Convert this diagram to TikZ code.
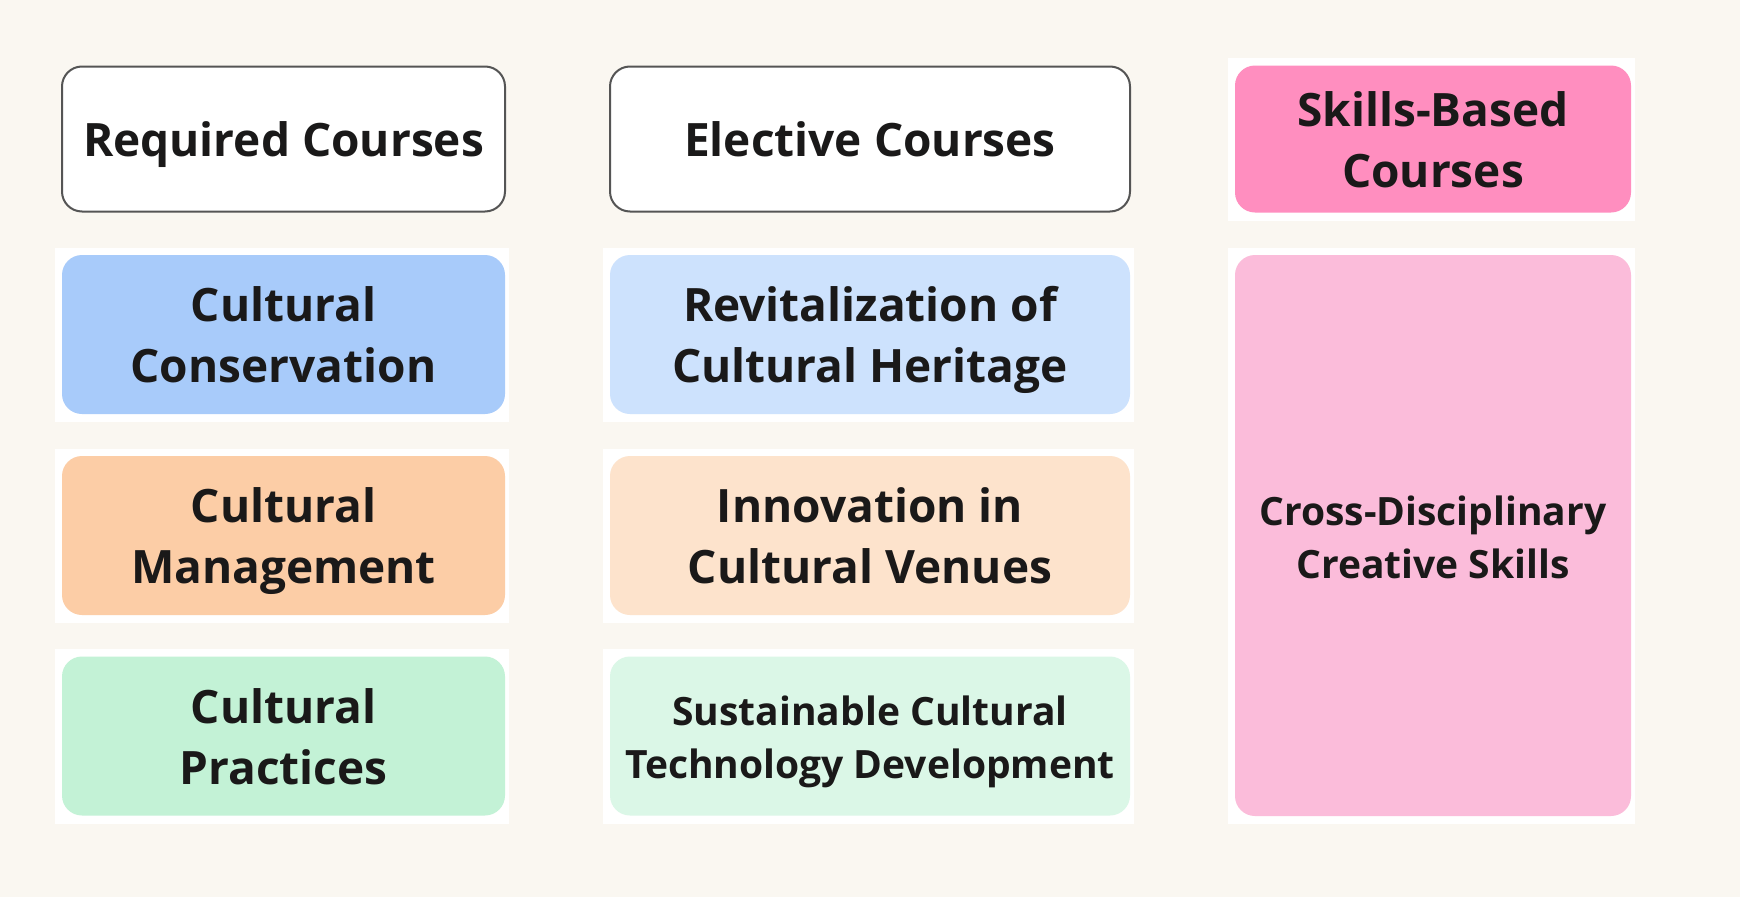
\documentclass[tikz,border=0pt]{standalone}
\usepackage{fontspec}
\setmainfont{Open Sans}
\usetikzlibrary{positioning}
\definecolor{cream}{HTML}{FAF7F1}
\definecolor{bordergray}{HTML}{555555}
\definecolor{inkdark}{HTML}{1A1919}
\definecolor{blueA}{HTML}{A8CBFA}
\definecolor{blueB}{HTML}{CDE2FD}
\definecolor{orangeA}{HTML}{FCCDA6}
\definecolor{orangeB}{HTML}{FDE3CC}
\definecolor{greenA}{HTML}{C3F2D6}
\definecolor{greenB}{HTML}{DBF7E7}
\definecolor{pinkA}{HTML}{FF8EBF}
\definecolor{pinkB}{HTML}{FBBCDA}
\newcommand\bigstrut{\rule[-12.8pt]{0pt}{61pt}}
\newcommand\lilstrut{\rule[-10.4pt]{0pt}{53pt}}
\pgfdeclarelayer{bg}
\pgfsetlayers{bg,main}
\tikzset{
  card/.style={rounded corners=20pt, inner sep=0pt, align=center, text=inkdark,
    font=\bfseries\fontsize{46}{61}\selectfont},
  smallcard/.style={card, font=\bfseries\fontsize{39}{53}\selectfont},
  headcard/.style={card, fill=white, draw=bordergray, line width=2pt},
  colA/.style={minimum width=443pt},
  colB/.style={minimum width=520pt},
  colC/.style={minimum width=396pt},
  rowbox/.style={minimum height=159pt},
  halo/.style={fill=white},
}
\begin{document}
\begin{tikzpicture}[x=1pt,y=-1pt]
\begin{pgfonlayer}{bg}
\fill[cream] (0,0) rectangle (1740,897);
\end{pgfonlayer}
\useasboundingbox (0,0) rectangle (1740,897);
% headers
\node[headcard, colA, minimum height=145pt] (req) at (283.5,139) {\bigstrut Required Courses};
\node[headcard, colB, minimum height=145pt] (ele) at (870,139) {\bigstrut Elective Courses};
\node[card, fill=pinkA, colC, minimum height=147pt] (skl) at (1433,139) {\bigstrut Skills-Based\\\bigstrut Courses};
% required column
\node[card, fill=blueA, colA, rowbox] (cons) at (283.5,334.5) {\bigstrut Cultural\\\bigstrut Conservation};
\node[card, fill=orangeA, colA, rowbox] (mgmt) at (283.5,535.5) {\bigstrut Cultural\\\bigstrut Management};
\node[card, fill=greenA, colA, rowbox] (prac) at (283.5,736) {\bigstrut Cultural\\\bigstrut Practices};
% elective column
\node[card, fill=blueB, colB, rowbox] (revi) at (870,334.5) {\bigstrut Revitalization of\\\bigstrut Cultural Heritage};
\node[card, fill=orangeB, colB, rowbox] (inno) at (870,535.5) {\bigstrut Innovation in\\\bigstrut Cultural Venues};
\node[smallcard, fill=greenB, colB, rowbox] (sust) at (870,736) {\lilstrut Sustainable Cultural\\\lilstrut Technology Development};
% skills column
\node[smallcard, fill=pinkB, colC, minimum height=561pt] (cross) at (1433,535.5) {\lilstrut Cross-Disciplinary\\\lilstrut Creative Skills};
% halos
\begin{pgfonlayer}{bg}
\foreach \n in {skl,cons,mgmt,prac,revi,inno,sust,cross}{
  \fill[halo] ([shift={(-7,-7)}]\n.north west) rectangle ([shift={(4,8)}]\n.south east);
}
\end{pgfonlayer}
\end{tikzpicture}
\end{document}
